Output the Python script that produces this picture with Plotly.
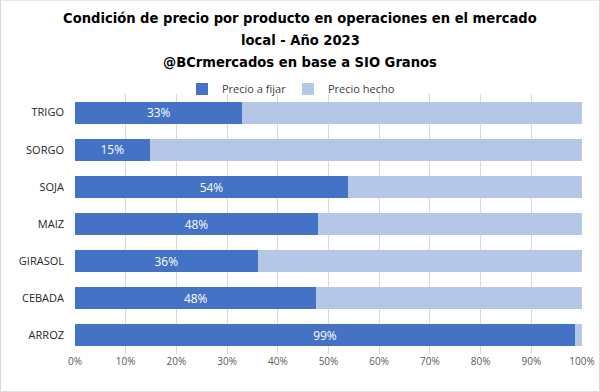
import plotly.graph_objects as go

productos = ["TRIGO", "SORGO", "SOJA", "MAIZ", "GIRASOL", "CEBADA", "ARROZ"]
precio_a_fijar = [33.0, 14.7, 53.8, 47.9, 36.0, 47.6, 98.6]
precio_hecho = [67.0, 85.3, 46.2, 52.1, 64.0, 52.4, 1.4]
tick_vals = [0, 10, 20, 30, 40, 50, 60, 70, 80, 90, 100]
tick_text = ["0%", "10%", "20%", "30%", "40%", "50%", "60%", "70%", "80%", "90%", "100%"]
titulo = [
    "Condición de precio por producto en operaciones en el mercado",
    "local - Año 2023",
    "@BCrmercados en base a SIO Granos",
]

fig = go.Figure()
fig.add_trace(go.Bar(
    y=productos, x=precio_a_fijar, orientation="h", name="Precio a fijar",
    marker=dict(color="#4472C4", line=dict(width=0)),
    texttemplate="%{x:.0f}%", textposition="inside", insidetextanchor="middle",
    textfont=dict(color="white", size=15, family="Open Sans"),
    hoverinfo="skip", legend="legend",
))
fig.add_trace(go.Bar(
    y=productos, x=precio_hecho, orientation="h", name="Precio hecho",
    marker=dict(color="#B4C7E7", line=dict(width=0)),
    hoverinfo="skip", legend="legend2",
))

title_font = dict(family="DejaVu Sans Condensed, Liberation Sans Narrow, sans-serif",
                  size=14.6, color="black")
line_y = [18, 40, 62]
for txt, yy in zip(titulo, line_y):
    fig.add_annotation(
        text="<b>" + txt + "</b>", xref="paper", yref="paper",
        x=(300 - 75) / 507, xanchor="center",
        y=1 + (94 - yy) / 259, yanchor="middle",
        showarrow=False, font=title_font,
    )

legend_font = dict(family="Open Sans", size=11, color="#404040")
fig.update_layout(
    barmode="stack",
    bargap=0.41,
    width=600, height=392,
    margin=dict(l=75, r=18, t=94, b=38, autoexpand=False),
    paper_bgcolor="white", plot_bgcolor="white",
    legend=dict(
        orientation="h", x=(182 - 75) / 507, xanchor="left",
        y=1 + (94 - 89) / 259, yanchor="middle",
        font=legend_font, itemwidth=30, bgcolor="rgba(0,0,0,0)",
    ),
    legend2=dict(
        orientation="h", x=(288 - 75) / 507, xanchor="left",
        y=1 + (94 - 89) / 259, yanchor="middle",
        font=legend_font, itemwidth=30, bgcolor="rgba(0,0,0,0)",
    ),
    showlegend=True,
    font=dict(family="Open Sans"),
)
fig.update_xaxes(
    range=[0, 100], tickvals=tick_vals, ticktext=tick_text,
    showgrid=True, gridcolor="#D9D9D9", gridwidth=1,
    zeroline=False, showline=False,
    tickfont=dict(family="Open Sans", size=10, color="#595959"),
    fixedrange=True,
)
fig.update_yaxes(
    categoryorder="array", categoryarray=productos, autorange="reversed",
    showgrid=False, zeroline=False, showline=False,
    ticks="", ticklabelstandoff=10,
    tickfont=dict(family="Open Sans", size=11, color="#262626"),
    fixedrange=True,
)
fig.add_shape(type="rect", xref="paper", yref="paper", x0=-74.5/507, x1=1 + 17.5/507, y0=-37.5/259, y1=1 + 93.5/259,
              line=dict(color="#D9D9D9", width=1), fillcolor="rgba(0,0,0,0)", layer="below")

fig.write_html("out.html", config={"displayModeBar": False},
               post_script="document.body.style.margin='0';document.body.style.padding='0';")
